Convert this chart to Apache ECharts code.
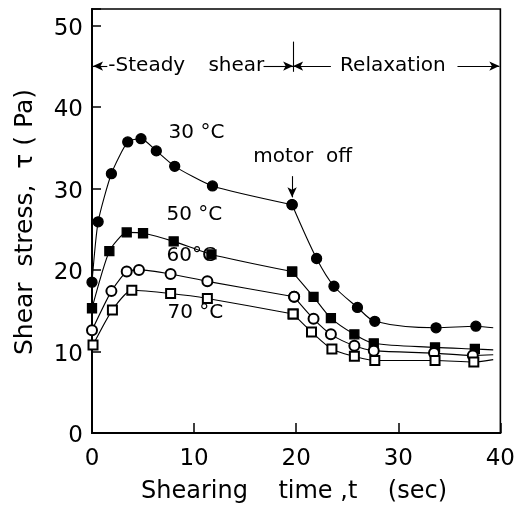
<!DOCTYPE html>
<html><head><meta charset="utf-8">
<script src="https://cdn.jsdelivr.net/npm/echarts@6/dist/echarts.min.js"></script>
<style>html,body{margin:0;padding:0;background:#fff}#c{width:518px;height:510px}</style>
</head><body><div id="c"></div>
<script>
// Shearing time t (sec) and shear stress (Pa) for each temperature
const t30 = [0, 0.6, 1.9, 3.5, 4.8, 6.3, 8.1, 11.8, 19.6, 22.0, 23.7, 26.0, 27.7, 33.7, 37.6];
const s30 = [18.5, 25.9, 31.8, 35.7, 36.1, 34.6, 32.7, 30.3, 28.0, 21.4, 18.0, 15.4, 13.7, 12.9, 13.1];
const t50 = [0, 1.7, 3.4, 5.0, 8.0, 11.7, 19.6, 21.7, 23.4, 25.7, 27.6, 33.6, 37.5];
const s50 = [15.3, 22.3, 24.6, 24.5, 23.5, 21.9, 19.8, 16.7, 14.1, 12.1, 11.0, 10.5, 10.3];
const t60 = [0, 1.9, 3.4, 4.6, 7.7, 11.3, 19.8, 21.7, 23.4, 25.7, 27.6, 33.5, 37.3];
const s60 = [12.6, 17.4, 19.8, 20.0, 19.5, 18.6, 16.7, 14.0, 12.1, 10.7, 10.1, 9.8, 9.5];
const t70 = [0.1, 2.0, 3.9, 7.7, 11.3, 19.7, 21.5, 23.5, 25.7, 27.7, 33.6, 37.4];
const s70 = [10.8, 15.1, 17.5, 17.1, 16.5, 14.6, 12.4, 10.3, 9.4, 8.9, 8.9, 8.7];
// end of each fitted relaxation curve (no marker)
const tailT = [39.3, 39.3, 39.3, 39.3];
const tailS = [12.9, 10.2, 9.6, 9.0];
const motorOffT = 19.6;
const xTicks = [0, 10, 20, 30, 40];
const yTicks = [0, 10, 20, 30, 40, 50];

const FONT = 'DejaVu Sans';
const chart = echarts.init(document.getElementById('c'), null, {renderer: 'canvas'});

const temps = [
  {t: t30, s: s30, symbol: 'circle', size: 10},
  {t: t50, s: s50, symbol: 'rect', size: 9},
  {t: t60, s: s60, symbol: 'emptyCircle', size: 10},
  {t: t70, s: s70, symbol: 'emptyRect', size: 9}
];

const series = [];
temps.forEach((d, k) => {
  const pts = d.t.map((v, i) => [v, d.s[i]]);
  const steady = pts.filter(p => p[0] <= motorOffT + 0.5);
  const relax = pts.filter(p => p[0] >= motorOffT - 0.5);
  relax.push({value: [tailT[k], tailS[k]], symbol: 'none'});
  const common = {
    type: 'line', symbol: d.symbol, symbolSize: d.size, showAllSymbol: true,
    lineStyle: {color: '#000', width: 1.1},
    itemStyle: {color: '#000', borderColor: '#000', borderWidth: 1.3},
    z: 3, silent: true, animation: false
  };
  series.push(Object.assign({}, common, {data: steady, smooth: 0.2}));
  series.push(Object.assign({}, common, {data: relax, smooth: 0.3}));
});

// arrows (in data coordinates)
const arrowY = 45;
series.push({
  type: 'line', data: [], silent: true, animation: false,
  markLine: {
    silent: true, animation: false,
    symbol: ['none', 'arrow'], symbolSize: [7, 10],
    lineStyle: {color: '#000', width: 1.1, type: 'solid'},
    label: {show: false},
    data: [
      [{coord: [1.5, arrowY]}, {coord: [0.1, arrowY]}],
      [{coord: [16.8, arrowY]}, {coord: [19.7, arrowY]}],
      [{coord: [23.4, arrowY]}, {coord: [19.7, arrowY]}],
      [{coord: [35.8, arrowY]}, {coord: [39.9, arrowY]}],
      [{coord: [motorOffT, 31.5]}, {coord: [motorOffT, 28.9]}],
      [{coord: [19.7, 48], symbol: 'none'}, {coord: [19.7, 44.3], symbol: 'none'}]
    ]
  }
});

chart.setOption({
  backgroundColor: '#fff',
  animation: false,
  grid: {left: 92, right: 15, top: 9, bottom: 77, show: true, borderColor: '#000', borderWidth: 1.6},
  xAxis: {
    type: 'value', min: 0, max: 40, interval: 10,
    axisLine: {lineStyle: {color: '#000', width: 2}},
    axisTick: {inside: true, length: 10, lineStyle: {color: '#000', width: 1.5}},
    axisLabel: {color: '#000', fontSize: 23, fontFamily: FONT, margin: 15,
      formatter: v => xTicks.includes(v) ? String(v) : ''},
    splitLine: {show: false}
  },
  yAxis: {
    type: 'value', min: 0, max: 52, interval: 10,
    axisLine: {lineStyle: {color: '#000', width: 2}},
    axisTick: {inside: true, length: 9, lineStyle: {color: '#000', width: 1.5}},
    axisLabel: {color: '#000', fontSize: 23, fontFamily: FONT, margin: 9,
      verticalAlign: 'top', padding: [-8, 0, 0, 0],
      formatter: v => yTicks.includes(v) ? String(v) : ''},
    splitLine: {show: false}
  },
  series: series
});

function P(x, y) { return chart.convertToPixel({gridIndex: 0}, [x, y]); }
function txt(x, y, s, size) {
  const p = P(x, y);
  return {type: 'text', x: p[0], y: p[1], z: 10, silent: true,
    style: {text: s, fill: '#000', fontSize: size, fontFamily: FONT, align: 'left', verticalAlign: 'middle'}};
}
chart.setOption({
  graphic: [
    txt(7.5, 36.8, '30 °C', 20),
    txt(7.3, 26.8, '50 °C', 20),
    txt(7.3, 21.7, '60°C', 20),
    txt(7.4, 14.7, '70 °C', 20),
    txt(15.8, 33.9, 'motor  off', 20),
    txt(1.6, arrowY, '-Steady', 20),
    txt(11.4, arrowY, 'shear', 20),
    txt(24.3, arrowY, 'Relaxation', 20),
    {type: 'text', x: 25, y: 222, rotation: Math.PI / 2, silent: true,
      style: {text: 'Shear  stress,  τ ( Pa)', fill: '#000', fontSize: 25, fontFamily: FONT, align: 'center', verticalAlign: 'middle'}},
    {type: 'text', x: 294, y: 492, silent: true,
      style: {text: 'Shearing    time ,t    (sec)', fill: '#000', fontSize: 24, fontFamily: FONT, align: 'center', verticalAlign: 'middle'}}
  ]
});
</script>
</body></html>
